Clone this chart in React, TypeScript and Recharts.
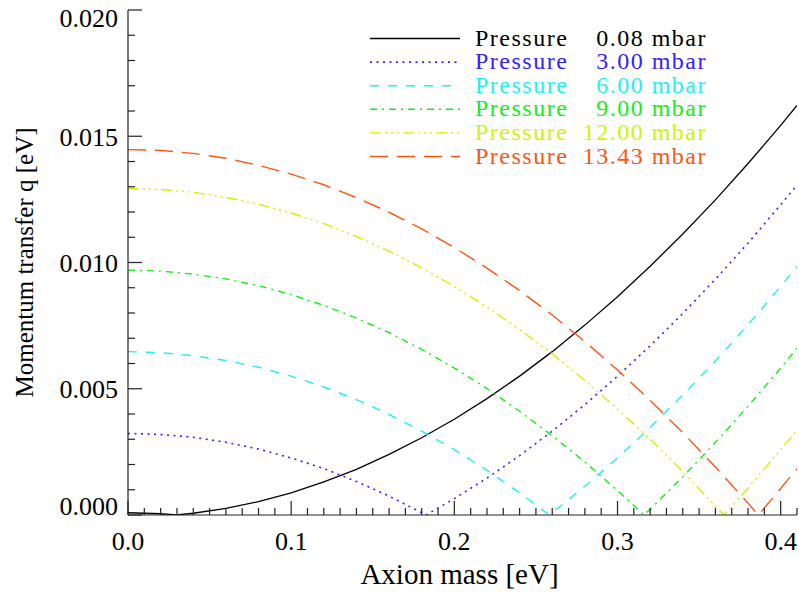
import React from "react";
import { LineChart, Line, XAxis, YAxis } from "recharts";

// ── Données ───────────────────────────────────────────────────────────────────

const massGrid = [0, 0.02, 0.04, 0.06, 0.08, 0.1, 0.12, 0.14, 0.16, 0.18, 0.2, 0.22, 0.24, 0.26, 0.28, 0.3, 0.32, 0.34, 0.36, 0.38, 0.4, 0.41];

const q008 = [0.00009, 0.00005, 0.00007, 0.00026, 0.00053, 0.00088, 0.00131, 0.00181, 0.0024, 0.00306, 0.00379, 0.00461, 0.0055, 0.00647, 0.00752, 0.00864, 0.00985, 0.01113, 0.01248, 0.01392, 0.01543, 0.01622];
const q300 = [0.00323, 0.00319, 0.00308, 0.00288, 0.00261, 0.00226, 0.00184, 0.00133, 0.00075, 0.00009, 0.00065, 0.00146, 0.00235, 0.00332, 0.00437, 0.0055, 0.0067, 0.00798, 0.00934, 0.01077, 0.01229, 0.01307];
const q600 = [0.00647, 0.00643, 0.00631, 0.00612, 0.00585, 0.0055, 0.00507, 0.00457, 0.00398, 0.00332, 0.00259, 0.00177, 0.00088, 0.00009, 0.00114, 0.00226, 0.00347, 0.00475, 0.0061, 0.00754, 0.00905, 0.00984];
const q900 = [0.0097, 0.00966, 0.00954, 0.00935, 0.00908, 0.00873, 0.0083, 0.0078, 0.00722, 0.00656, 0.00582, 0.00501, 0.00411, 0.00314, 0.0021, 0.00097, 0.00023, 0.00151, 0.00287, 0.00431, 0.00582, 0.00661];
const q1200 = [0.01293, 0.01289, 0.01278, 0.01258, 0.01231, 0.01196, 0.01154, 0.01103, 0.01045, 0.00979, 0.00905, 0.00824, 0.00735, 0.00638, 0.00533, 0.0042, 0.003, 0.00172, 0.00036, 0.00107, 0.00259, 0.00337];
const q1343 = [0.01447, 0.01444, 0.01432, 0.01413, 0.01385, 0.0135, 0.01308, 0.01257, 0.01199, 0.01133, 0.01059, 0.00978, 0.00889, 0.00792, 0.00687, 0.00574, 0.00454, 0.00326, 0.0019, 0.00047, 0.00105, 0.00183];

// masse où q s'annule (pointe du V)
const zeroMass = [0.0298, 0.1826, 0.2582, 0.3162, 0.3651, 0.3863];
const pressures = ["0.08", "3.00", "6.00", "9.00", "12.00", "13.43"];

const xMajor = [0, 0.1, 0.2, 0.3, 0.4];
const yMajor = [0, 0.005, 0.01, 0.015, 0.02];

// ── Styles ────────────────────────────────────────────────────────────────────

const COLORS = ["#000000", "#3322ff", "#1ff0f0", "#14ee14", "#c8f800", "#ff5511"];
const DASHES = ["", "2 4.5", "9 9", "7 5 2 5", "11 4 2 4 2 4 2 4", "18 9"];
const WIDTHS = [1.3, 1.6, 1.4, 1.4, 1.4, 1.4];
const FONT = '"Liberation Serif", "Times New Roman", Times, "DejaVu Serif", serif';
const FS = 26;
const txt = { fontFamily: FONT };

const qSeries = [q008, q300, q600, q900, q1200, q1343];
const series = qSeries.map((q, s) => {
  const pts = massGrid.map((m, i) => ({ m, q: q[i] }));
  pts.push({ m: zeroMass[s], q: 0 });
  pts.sort((a, b) => a.m - b.m);
  return pts;
});

const xTicks = Array.from({ length: 42 }, (_, i) => Math.round(i * 10) / 1000);
const yTicks = Array.from({ length: 21 }, (_, i) => Math.round(i * 10) / 10000);

const isMajor = (v: number, list: number[]) => list.some((t) => Math.abs(t - v) < 1e-9);

// ── Graduations façon IDL (vers l'intérieur) ─────────────────────────────────

function BottomTick({ x, y, payload }: any) {
  const major = isMajor(payload.value, xMajor);
  return (
    <g>
      <line x1={x} x2={x} y1={y} y2={y - (major ? 14 : 7)} stroke="#222" strokeWidth={1.2} />
      {major && (
        <text x={x} y={y + 35} textAnchor="middle" style={txt} fontSize={FS} fill="#000">
          {payload.value.toFixed(1)}
        </text>
      )}
    </g>
  );
}

function TopTick({ x, y, payload }: any) {
  const major = isMajor(payload.value, xMajor);
  return <line x1={x} x2={x} y1={y} y2={y + (major ? 14 : 7)} stroke="#222" strokeWidth={1.2} />;
}

function LeftTick({ x, y, payload }: any) {
  const major = isMajor(payload.value, yMajor);
  const base = Math.min(Math.max(y + 9.5, 27), 515);
  return (
    <g>
      <line x1={x} x2={x + (major ? 14 : 7)} y1={y} y2={y} stroke="#222" strokeWidth={1.2} />
      {major && (
        <text x={x - 10} y={base} textAnchor="end" style={txt} fontSize={FS} fill="#000">
          {payload.value.toFixed(3)}
        </text>
      )}
    </g>
  );
}

function RightTick({ x, y, payload }: any) {
  const major = isMajor(payload.value, yMajor);
  return <line x1={x} x2={x - (major ? 14 : 7)} y1={y} y2={y} stroke="#222" strokeWidth={1.2} />;
}

// ── Légende ───────────────────────────────────────────────────────────────────

function PressureLegend() {
  const legendText = { fontFamily: FONT, letterSpacing: 1.5 };
  return (
    <svg width={799} height={592} style={{ position: "absolute", left: 0, top: 0, pointerEvents: "none" }}>
      {pressures.map((p, i) => {
        const cy = 38.5 + i * 23.6;
        return (
          <g key={p}>
            <line x1={370} x2={460} y1={cy} y2={cy} stroke={COLORS[i]} strokeWidth={WIDTHS[i]} strokeDasharray={DASHES[i]} />
            <text x={475} y={cy + 7} style={legendText} fontSize={24} fill={COLORS[i]}>Pressure</text>
            <text x={707} y={cy + 7} textAnchor="end" style={legendText} fontSize={24} fill={COLORS[i]}>{p} mbar</text>
          </g>
        );
      })}
    </svg>
  );
}

export default function App() {
  const axisLine = { stroke: "#222", strokeWidth: 1.2 };
  return (
    <div style={{ position: "absolute", left: 0, top: 0, width: 799, height: 592, background: "#fff", fontFamily: FONT }}>
      <LineChart width={799} height={592} margin={{ top: 10, right: 2, bottom: 0, left: 0 }}>
        <XAxis
          xAxisId="b" type="number" dataKey="m" domain={[0, 0.41]} allowDataOverflow
          ticks={xTicks} interval={0} tickSize={0} tickMargin={0} tick={<BottomTick />}
          axisLine={axisLine} height={77}
          label={{
            content: ({ viewBox }: any) => (
              <text x={viewBox.x + viewBox.width / 2 - 3} y={584} textAnchor="middle" style={txt} fontSize={29} fill="#000">
                Axion mass [eV]
              </text>
            ),
          }}
        />
        <XAxis
          xAxisId="t" orientation="top" type="number" domain={[0, 0.41]} allowDataOverflow
          ticks={xTicks} interval={0} tickSize={0} tickMargin={0} tick={<TopTick />}
          axisLine={axisLine} height={0}
        />
        <YAxis
          yAxisId="l" type="number" domain={[0, 0.02]} allowDataOverflow
          ticks={yTicks} interval={0} tickSize={0} tickMargin={0} tick={<LeftTick />}
          axisLine={axisLine} width={128}
          label={{
            content: ({ viewBox }: any) => {
              const cy = viewBox.y + viewBox.height / 2;
              return (
                <text x={33} y={cy} transform={`rotate(-90 33 ${cy})`} textAnchor="middle" style={txt} fontSize={25} fill="#000">
                  Momentum transfer q [eV]
                </text>
              );
            },
          }}
        />
        <YAxis
          yAxisId="r" orientation="right" type="number" domain={[0, 0.02]} allowDataOverflow
          ticks={yTicks} interval={0} tickSize={0} tickMargin={0} tick={<RightTick />}
          axisLine={axisLine} width={0}
        />
        {series.map((pts, i) => (
          <Line
            key={pressures[i]}
            xAxisId="b" yAxisId="l"
            data={pts} dataKey="q" type="linear"
            stroke={COLORS[i]} strokeWidth={WIDTHS[i]} strokeDasharray={DASHES[i] || undefined}
            dot={false} activeDot={false} isAnimationActive={false}
          />
        ))}
      </LineChart>
      <PressureLegend />
    </div>
  );
}
